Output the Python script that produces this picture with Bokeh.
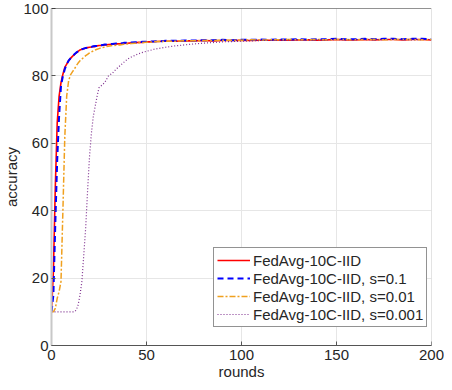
from bokeh.plotting import figure
from bokeh.models import Range1d, Span, Legend, LegendItem, FixedTicker
from bokeh.embed import file_html
from bokeh.resources import INLINE

rounds = [0, 1, 2, 3, 4, 5, 6, 7, 8, 9, 10, 11, 12, 13, 14, 15, 16, 17, 18, 19, 20,
          21, 22, 23, 24, 25, 26, 27, 28, 29, 30,
          32, 34, 36, 38, 40, 42, 44, 46, 48, 50, 52, 54, 56, 58, 60,
          65, 70, 75, 80, 85, 90, 95, 100, 105, 110, 115, 120, 125, 130, 135, 140,
          145, 150, 155, 160, 165, 170, 175, 180, 185, 190, 195, 200]

acc_base = [10, 22, 47, 66, 74, 78, 80.5, 82.5, 83.5, 84.5, 85.2, 85.8, 86.3, 86.8, 87.3, 87.7,
            87.9, 88.1, 88.2, 88.4, 88.5, 88.6, 88.7, 88.7, 88.9, 89.0, 89.0, 89.1, 89.2, 89.2, 89.3,
            89.4, 89.5, 89.5, 89.6, 89.7, 89.8, 89.8, 90.0, 89.9, 90.1, 90.1, 90.2, 90.2, 90.3, 90.3,
            90.3, 90.4, 90.4, 90.5, 90.4, 90.5, 90.5, 90.6, 90.5, 90.6, 90.6, 90.7, 90.6, 90.7,
            90.7, 90.6, 90.7, 90.8, 90.7, 90.7, 90.8, 90.7, 90.8, 90.8, 90.7, 90.8, 90.8, 90.7]

acc_s01 = [10, 15, 36, 55, 68, 77, 80, 82, 83.5, 84.5, 85.2, 85.8, 86.4, 86.9, 87.3, 87.6,
           87.9, 88.1, 88.3, 88.4, 88.6, 88.6, 88.8, 88.9, 88.9, 89.0, 89.1, 89.2, 89.3, 89.3, 89.4,
           89.5, 89.6, 89.6, 89.8, 89.8, 89.9, 90.0, 90.0, 90.1, 90.1, 90.2, 90.2, 90.3, 90.3, 90.4,
           90.4, 90.5, 90.5, 90.6, 90.6, 90.7, 90.6, 90.7, 90.7, 90.8, 90.7, 90.8, 90.8, 90.9,
           90.8, 90.9, 90.9, 91.0, 90.9, 90.9, 91.0, 90.9, 91.0, 91.0, 90.9, 91.0, 91.0, 90.9]

acc_s001 = [10, 10, 11, 14, 16, 19, 40, 62, 74, 78.5, 80.3, 81.2, 82, 83, 83.8, 84.5,
            85, 85.5, 86, 86.4, 86.8, 87.1, 87.4, 87.7, 87.9, 88.1, 88.3, 88.4, 88.6, 88.7, 88.8,
            89.0, 89.1, 89.2, 89.4, 89.5, 89.6, 89.7, 89.8, 89.9, 90.0, 90.0, 90.1, 90.2, 90.2, 90.3,
            90.3, 90.4, 90.4, 90.5, 90.5, 90.6, 90.6, 90.6, 90.7, 90.6, 90.7, 90.7, 90.8, 90.7,
            90.7, 90.8, 90.7, 90.8, 90.8, 90.7, 90.8, 90.8, 90.7, 90.8, 90.8, 90.8, 90.7, 90.8]

acc_s0001 = [10, 10, 10, 10, 10, 10, 10, 10, 10, 10, 10, 10, 10, 10.5, 12, 15,
             19, 27, 35, 46, 56, 63, 68, 71, 74, 76.5, 77, 77.5, 78, 79, 80,
             80.8, 82, 83, 84, 85, 85.6, 86.1, 86.6, 87, 87.3, 87.6, 87.9, 88.1, 88.3, 88.5,
             88.9, 89.2, 89.5, 89.7, 89.9, 90.1, 90.2, 90.3, 90.4, 90.5, 90.5, 90.6, 90.6, 90.7,
             90.6, 90.7, 90.7, 90.8, 90.7, 90.8, 90.8, 90.7, 90.8, 90.8, 90.8, 90.7, 90.8, 90.8]

labels = ["FedAvg-10C-IID", "FedAvg-10C-IID, s=0.1", "FedAvg-10C-IID, s=0.01", "FedAvg-10C-IID, s=0.001"]
x_ticks = [0, 50, 100, 150, 200]
y_ticks = [0, 20, 40, 60, 80, 100]

FONT = "Liberation Sans"
TXT = "#262626"

p = figure(width=444, height=382, output_backend="svg", toolbar_location=None,
           x_range=Range1d(0, 200), y_range=Range1d(0, 100),
           min_border_left=44, min_border_right=13, min_border_top=8, min_border_bottom=37)
p.outline_line_color = None
p.background_fill_color = "white"

for ax in (p.xaxis[0], p.yaxis[0]):
    ax.major_label_text_font = FONT
    ax.major_label_text_font_size = "15px"
    ax.major_label_text_color = TXT
    ax.axis_label_text_font = FONT
    ax.axis_label_text_font_size = "15px"
    ax.axis_label_text_font_style = "normal"
    ax.axis_label_text_color = TXT
    ax.major_tick_in = 4
    ax.major_tick_out = 0
    ax.minor_tick_in = 0
    ax.minor_tick_out = 0
    ax.major_tick_line_color = "#555555"

p.xaxis.ticker = FixedTicker(ticks=x_ticks)
p.yaxis.ticker = FixedTicker(ticks=y_ticks)
p.xaxis.axis_label = "rounds"
p.yaxis.axis_label = "accuracy"
p.xaxis.axis_line_color = "#555555"
p.xaxis.major_label_standoff = 4
p.xaxis.axis_label_standoff = 0
p.yaxis.axis_line_color = "#c8c8c8"
p.yaxis.axis_line_width = 2
p.yaxis.major_label_standoff = 3
p.yaxis.axis_label_standoff = 0

p.xgrid.grid_line_color = "#e6e6e6"
p.ygrid.grid_line_color = "#e6e6e6"

p.add_layout(Span(location=100, dimension="width", line_color="#262626", line_width=1))
p.add_layout(Span(location=200, dimension="height", line_color="#c8c8c8", line_width=1))

r1 = p.line(rounds, acc_base, line_color="#ff0000", line_width=1.6)
r2 = p.line(rounds, acc_s01, line_color="#0000ff", line_width=2, line_dash="6 4")
r3 = p.line(rounds, acc_s001, line_color="#f0a01e", line_width=1.5, line_dash="6 2 2 2")
r4 = p.line(rounds, acc_s0001, line_color="#7e2f8e", line_width=1.2, line_dash="1 2")

legend = Legend(items=[LegendItem(label=labels[i], renderers=[r]) for i, r in enumerate([r1, r2, r3, r4])],
                location=(162, 18), orientation="vertical",
                label_text_font=FONT, label_text_font_size="15px", label_text_color=TXT,
                glyph_width=33, glyph_height=18, label_height=18, label_standoff=3,
                padding=3, spacing=0, margin=0,
                border_line_color="#262626", border_line_width=1,
                background_fill_color="white", background_fill_alpha=1.0)
p.add_layout(legend)

open("out.html", "w").write(file_html(p, INLINE))
